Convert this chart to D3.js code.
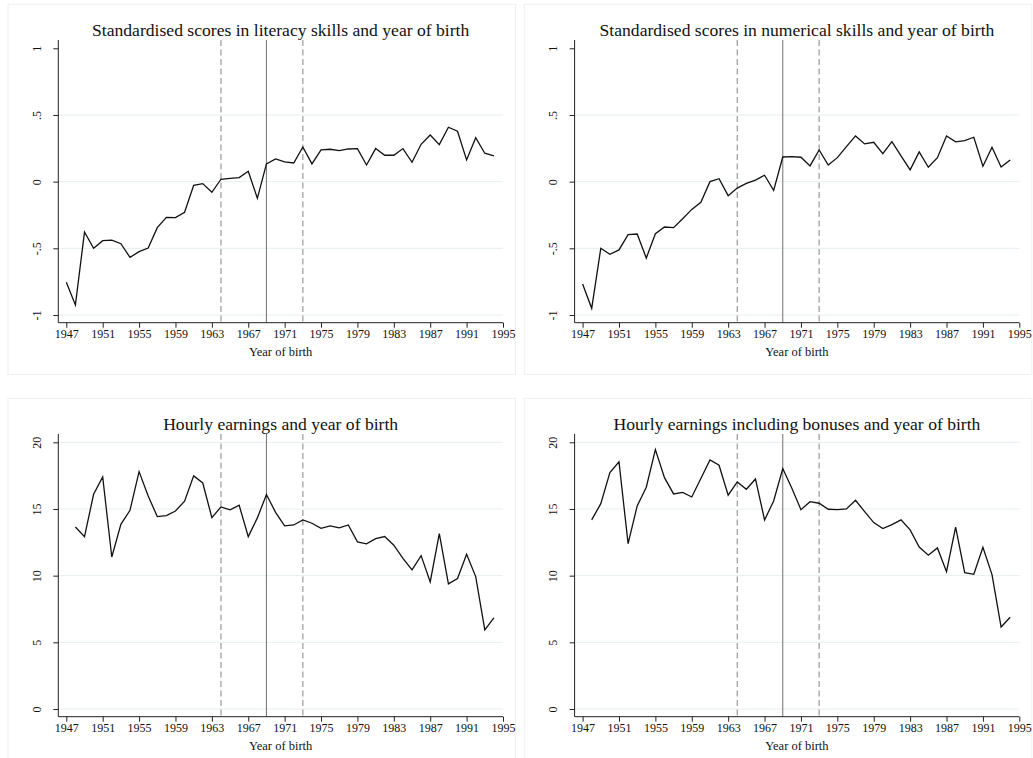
<!DOCTYPE html>
<html>
<head>
<meta charset="utf-8">
<script src="https://cdn.jsdelivr.net/npm/d3@7"></script>
<style>
  body { margin: 0; background: #fff; }
  text { font-family: "Liberation Serif", "DejaVu Serif", serif; fill: #111; }
</style>
</head>
<body>
<div id="chart"></div>
<script>
// data
var yearsScore = d3.range(1947, 1995);   // 1947..1994
var yearsEarn = d3.range(1948, 1995);    // 1948..1994

var literacy = [-0.755, -0.925, -0.378, -0.50, -0.443, -0.438, -0.465, -0.568, -0.525, -0.498,
  -0.345, -0.268, -0.27, -0.23, -0.028, -0.015, -0.08, 0.018, 0.025, 0.03,
  0.078, -0.125, 0.133, 0.17, 0.148, 0.14, 0.26, 0.133, 0.238, 0.243,
  0.233, 0.245, 0.248, 0.125, 0.248, 0.198, 0.198, 0.248, 0.145, 0.28,
  0.35, 0.278, 0.408, 0.378, 0.163, 0.33, 0.213, 0.193];

var numerical = [-0.768, -0.95, -0.50, -0.545, -0.512, -0.398, -0.393, -0.573, -0.39, -0.34,
  -0.345, -0.278, -0.208, -0.155, 0.0, 0.022, -0.105, -0.048, -0.013, 0.012,
  0.048, -0.065, 0.185, 0.188, 0.183, 0.118, 0.238, 0.125, 0.18, 0.263,
  0.343, 0.283, 0.295, 0.21, 0.30, 0.193, 0.088, 0.223, 0.108, 0.18,
  0.343, 0.298, 0.308, 0.333, 0.115, 0.258, 0.11, 0.163];

var earnings = [13.65, 12.93, 16.1, 17.4, 11.4, 13.85, 14.9, 17.8, 15.98, 14.43,
  14.5, 14.85, 15.58, 17.48, 16.95, 14.35, 15.15, 14.93, 15.28, 12.93,
  14.33, 16.08, 14.75, 13.73, 13.8, 14.18, 13.93, 13.55, 13.73, 13.58,
  13.8, 12.53, 12.38, 12.78, 12.93, 12.28, 11.3, 10.43, 11.5, 9.53,
  13.15, 9.38, 9.78, 11.6, 9.93, 5.93, 6.83];

var earningsBonus = [14.18, 15.4, 17.73, 18.53, 12.4, 15.23, 16.63, 19.45, 17.35, 16.13,
  16.25, 15.9, 17.28, 18.68, 18.28, 16.03, 17.03, 16.48, 17.25, 14.18,
  15.6, 18.03, 16.55, 14.95, 15.55, 15.43, 14.98, 14.95, 15.0, 15.65,
  14.8, 13.98, 13.53, 13.83, 14.18, 13.43, 12.15, 11.53, 12.08, 10.3,
  13.63, 10.23, 10.1, 12.13, 10.08, 6.15, 6.88];

var xTicks = d3.range(1947, 1996, 4);
var scoreTicks = [-1, -0.5, 0, 0.5, 1];
var scoreTickLabels = ["-1", "-.5", "0", ".5", "1"];
var earnTicks = [0, 5, 10, 15, 20];
var earnTickLabels = ["0", "5", "10", "15", "20"];

var refDashed = [1964, 1973];
var refSolid = [1969];

var panels = [
  {title: "Standardised scores in literacy skills and year of birth", years: yearsScore, values: literacy,
   domain: [-1, 1], ticks: scoreTicks, labels: scoreTickLabels, grid: [-1, -0.5, 0, 0.5]},
  {title: "Standardised scores in numerical skills and year of birth", years: yearsScore, values: numerical,
   domain: [-1, 1], ticks: scoreTicks, labels: scoreTickLabels, grid: [-1, -0.5, 0, 0.5]},
  {title: "Hourly earnings and year of birth", years: yearsEarn, values: earnings,
   domain: [0, 20], ticks: earnTicks, labels: earnTickLabels, grid: [0, 5, 10, 15, 20]},
  {title: "Hourly earnings including bonuses and year of birth", years: yearsEarn, values: earningsBonus,
   domain: [0, 20], ticks: earnTicks, labels: earnTickLabels, grid: [0, 5, 10, 15, 20]}
];

var W = 1033, H = 758;
var svg = d3.select("#chart").append("svg")
  .attr("width", W).attr("height", H);

// layout inside one panel (panel-relative)
var pw = 507.5, ph = 370;
var plotLeft = 50.3, plotRight = 495, plotTop = 35.7, plotBottom = 318.4;
var midX = (plotLeft + plotRight) / 2;

panels.forEach(function(p, i) {
  var ox = 8 + (i % 2) * 516.3,
      oy = 4.3 + Math.floor(i / 2) * 394;

  var g = svg.append("g").attr("transform", "translate(" + ox + "," + oy + ")");

  g.append("rect")
    .attr("x", 0).attr("y", 0).attr("width", pw).attr("height", ph)
    .attr("fill", "#fff").attr("stroke", "#edf1f1").attr("stroke-width", 1);

  var x = d3.scaleLinear().domain([1947, 1995]).range([58.3, 495]);
  var y = d3.scaleLinear().domain(p.domain).range([310.7, 44]);

  // grid
  g.selectAll(".grid").data(p.grid).enter().append("line")
    .attr("x1", plotLeft).attr("x2", plotRight)
    .attr("y1", function(d) { return y(d); })
    .attr("y2", function(d) { return y(d); })
    .attr("stroke", "#e6eeee").attr("stroke-width", 1);

  // reference lines
  g.selectAll(".refd").data(refDashed).enter().append("line")
    .attr("x1", function(d) { return x(d); }).attr("x2", function(d) { return x(d); })
    .attr("y1", plotTop).attr("y2", plotBottom)
    .attr("stroke", "#9a9a9a").attr("stroke-width", 1.2)
    .attr("stroke-dasharray", "6,3.5");
  g.selectAll(".refs").data(refSolid).enter().append("line")
    .attr("x1", function(d) { return x(d); }).attr("x2", function(d) { return x(d); })
    .attr("y1", plotTop).attr("y2", plotBottom)
    .attr("stroke", "#7d7d7d").attr("stroke-width", 1.1);

  // data line
  var line = d3.line()
    .x(function(d, j) { return x(p.years[j]); })
    .y(function(d) { return y(d); });
  g.append("path")
    .datum(p.values)
    .attr("d", line)
    .attr("fill", "none")
    .attr("stroke", "#111")
    .attr("stroke-width", 1.3)
    .attr("stroke-linejoin", "miter");

  // x axis
  var xAxis = d3.axisBottom(x).tickValues(xTicks).tickFormat(d3.format("d"))
    .tickSize(5).tickSizeOuter(0);
  var gx = g.append("g").attr("transform", "translate(0," + plotBottom + ")").call(xAxis);
  gx.attr("font-size", null).attr("font-family", null);
  gx.select(".domain").attr("d", "M" + plotLeft + ",0H" + plotRight).attr("stroke", "#222");
  gx.selectAll(".tick line").attr("stroke", "#222");
  gx.selectAll(".tick text")
    .attr("dy", "0.62em").attr("y", 8)
    .style("font-size", "12px").attr("fill", "#111");

  // y axis
  var yAxis = d3.axisLeft(y).tickValues(p.ticks)
    .tickFormat(function(d, j) { return p.labels[j]; })
    .tickSize(5).tickSizeOuter(0);
  var gy = g.append("g").attr("transform", "translate(" + plotLeft + ",0)").call(yAxis);
  gy.attr("font-size", null).attr("font-family", null);
  gy.select(".domain").attr("d", "M0," + plotTop + "V" + plotBottom).attr("stroke", "#222");
  gy.selectAll(".tick line").attr("stroke", "#222");
  gy.selectAll(".tick text")
    .attr("x", null)
    .attr("text-anchor", "middle")
    .attr("transform", "translate(-21.5,0) rotate(-90)")
    .attr("y", 0)
    .attr("dy", "0.35em")
    .style("font-size", "12px").attr("fill", "#111");

  // title
  g.append("text")
    .attr("x", midX).attr("y", 31.5)
    .attr("text-anchor", "middle")
    .style("font-size", "17.6px")
    .text(p.title);

  // x title
  g.append("text")
    .attr("x", midX).attr("y", 351.5)
    .attr("text-anchor", "middle")
    .style("font-size", "12.5px")
    .text("Year of birth");
});
</script>
</body>
</html>
